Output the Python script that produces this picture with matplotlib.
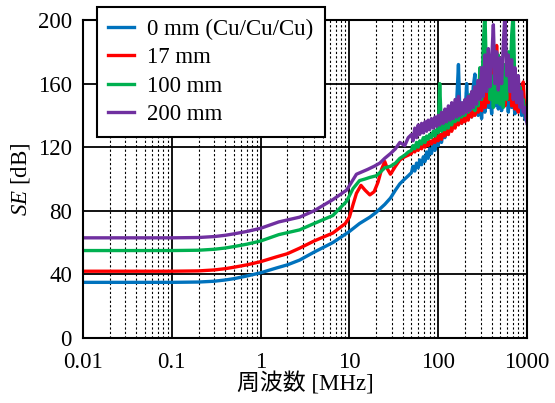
import matplotlib
matplotlib.use("Agg")
import matplotlib.pyplot as plt
from matplotlib.ticker import LogLocator, FixedLocator, FixedFormatter, NullFormatter

plt.rcParams['font.family'] = ['Liberation Serif', 'Noto Sans CJK JP']
plt.rcParams['mathtext.fontset'] = 'custom'
plt.rcParams['mathtext.rm'] = 'Liberation Serif'
plt.rcParams['mathtext.it'] = 'Liberation Serif:italic'

# ---- data ----
labels = ["0 mm (Cu/Cu/Cu)", "17 mm", "100 mm", "200 mm"]
colors = ["#0072BD", "#FF0000", "#00B050", "#7030A0"]

# shared high-frequency grid [MHz]
f_hi = [50, 52, 54.5, 57, 59.5, 62, 65, 68, 71, 74, 77, 80, 84, 88, 92, 96, 100, 104, 109, 114,
        119, 124, 130, 136, 142, 148, 155, 162, 169, 176, 184, 192, 200, 209, 218, 228, 238, 248, 259, 270,
        282, 295, 308, 322, 336, 351, 367, 383, 400, 418, 436, 455, 475, 496, 518, 541, 565, 590, 616, 643,
        671, 700, 731, 763, 797, 832, 869, 907, 947, 1000]

# 0 mm (Cu/Cu/Cu)
f_0 = [0.01, 0.1, 0.2, 0.3, 0.4, 0.5, 0.7, 1, 1.5, 2, 2.75, 4, 6.5, 10, 13, 17, 20, 25, 29, 33, 37, 42, 46]
se_0_lo = [35, 35, 35.2, 35.7, 36.5, 37.3, 39, 41, 44, 46, 49, 54, 60, 67, 72, 76, 79, 84, 88, 93, 97, 100, 102]
se_0_hi = [104, 108, 105, 110, 107, 112, 109, 114, 111, 117, 113, 119, 116, 122, 118, 124, 121, 128, 123, 131,
           126, 134, 128, 140, 131, 138, 133, 150, 172, 140, 135, 148, 138, 160, 142, 152, 139, 158, 166, 145,
           140, 150, 138, 155, 142, 160, 145, 152, 141, 158, 146, 162, 144, 156, 143, 160, 147, 155, 142, 158,
           145, 152, 141, 150, 143, 148, 140, 145, 138, 136]

# 17 mm
f_17 = [0.01, 0.1, 0.2, 0.3, 0.4, 0.5, 0.7, 1, 1.5, 2, 2.75, 4, 6.5, 9, 10, 11, 12, 13.5, 15, 17, 19, 21, 23,
        25, 27, 29, 33, 37, 42, 46]
se_17_lo = [42, 42, 42.2, 42.8, 43.6, 44.5, 46, 48, 51, 53, 56.5, 61, 66, 72, 76, 84, 91, 96, 93, 90, 92, 98, 106,
            111, 106, 103, 108, 112, 114, 115]
se_17_hi = [116, 119, 117, 120, 118, 121, 119, 122, 120, 123, 121, 124, 122, 125, 123, 127, 124, 128, 125, 130,
            127, 132, 128, 134, 130, 136, 132, 138, 134, 140, 135, 141, 136, 143, 137, 145, 139, 148, 140, 150,
            142, 155, 143, 158, 145, 165, 148, 170, 150, 176, 152, 184, 150, 172, 148, 168, 146, 163, 150, 174,
            146, 160, 144, 155, 142, 158, 145, 161, 142, 137]

# 100 mm
f_100 = [0.01, 0.1, 0.2, 0.3, 0.4, 0.5, 0.7, 1, 1.6, 2.75, 4, 6.5, 9.3, 11, 13, 15, 17, 20, 22, 25, 29, 33,
         37, 42, 46]
se_100_lo = [55, 55, 55.2, 55.8, 56.6, 57.5, 59, 61, 65, 68, 72, 77, 86, 94, 99, 100, 101, 102, 104, 107, 108, 110,
             113, 115, 117]
se_100_hi = [118, 121, 119, 123, 120, 124, 122, 126, 123, 127, 125, 128, 126, 130, 127, 131, 129, 160, 130, 135,
             131, 137, 132, 139, 134, 141, 136, 143, 137, 145, 139, 147, 140, 150, 142, 153, 144, 155, 143, 158,
             146, 170, 150, 185, 205, 160, 175, 150, 165, 145, 170, 148, 178, 147, 168, 145, 172, 150, 180, 158,
             190, 205, 155, 165, 148, 158, 145, 150, 142, 138]

# 200 mm
f_200 = [0.01, 0.1, 0.2, 0.3, 0.4, 0.5, 0.7, 1, 1.6, 2.75, 4, 6.5, 9.3, 12, 16, 19, 22, 25, 29, 33, 37, 42, 46]
se_200_lo = [63, 63, 63.2, 63.8, 64.6, 65.5, 67, 69, 73, 76, 80, 87, 93, 103, 106, 108, 110, 113, 116, 119, 123,
             121, 126]
se_200_hi = [128, 124, 132, 126, 134, 128, 135, 129, 136, 130, 137, 131, 138, 132, 139, 133, 140, 134, 142, 135,
             144, 136, 146, 137, 148, 138, 150, 139, 152, 140, 148, 141, 150, 142, 152, 143, 155, 145, 158, 147,
             162, 150, 170, 152, 178, 155, 182, 158, 175, 197, 160, 180, 156, 176, 160, 185, 205, 165, 178, 155,
             175, 150, 170, 148, 165, 145, 155, 142, 145, 135]

series = [
    (f_0 + f_hi, se_0_lo + se_0_hi),
    (f_17 + f_hi, se_17_lo + se_17_hi),
    (f_100 + f_hi, se_100_lo + se_100_hi),
    (f_200 + f_hi, se_200_lo + se_200_hi),
]

xticks = [0.01, 0.1, 1, 10, 100, 1000]
xticklabels = ["0.01", "0.1", "1", "10", "100", "1000"]
yticks = [0, 40, 80, 120, 160, 200]

fs = 16.5

fig = plt.figure(figsize=(5.55, 4.03), dpi=100)
ax = fig.add_axes([83 / 555, 1 - 338 / 403, 444 / 555, 318 / 403])

for (f, se), lab, c in zip(series, labels, colors):
    ax.plot(f, se, color=c, lw=2.4, label=lab, solid_joinstyle='round')

ax.set_xscale('log')
ax.set_xlim(0.01, 1000)
ax.set_ylim(0, 200)
ax.xaxis.set_major_locator(FixedLocator(xticks))
ax.xaxis.set_major_formatter(FixedFormatter(xticklabels))
ax.xaxis.set_minor_locator(LogLocator(base=10, subs=range(2, 10), numticks=20))
ax.xaxis.set_minor_formatter(NullFormatter())
ax.set_yticks(yticks)

ax.grid(True, which='major', color='black', lw=1.3, ls='-')
ax.grid(True, which='minor', axis='x', color='black', lw=0.8, ls=(0, (2, 2)))
ax.set_axisbelow(True)
ax.tick_params(which='both', direction='in', length=0, labelsize=fs)
ax.tick_params(axis='x', pad=10)
ax.tick_params(axis='y', pad=8)
for sp in ax.spines.values():
    sp.set_linewidth(1.5)
    sp.set_color('black')

ax.set_xlabel("周波数 [MHz]", fontsize=fs, labelpad=0)
ax.set_ylabel(r"$SE$ [dB]", fontsize=fs, labelpad=4)

leg = fig.legend(loc='upper left', bbox_to_anchor=(97 / 555, 1 - 7 / 403),
                 bbox_transform=fig.transFigure, borderaxespad=0, fontsize=fs,
                 handlelength=1.1, handletextpad=0.6, labelspacing=0.33,
                 borderpad=0.5, fancybox=False, framealpha=1, edgecolor='black')
leg.get_frame().set_linewidth(1.5)

fig.savefig("out.png", dpi=100)
